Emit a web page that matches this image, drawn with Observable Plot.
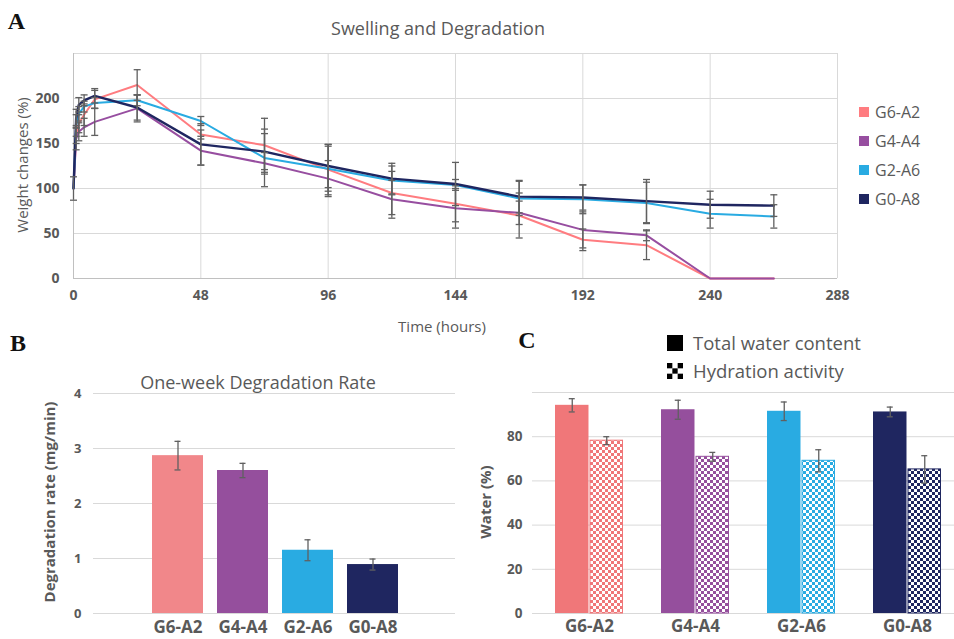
<!DOCTYPE html>
<html>
<head>
<meta charset="utf-8">
<script src="https://cdn.jsdelivr.net/npm/d3@7"></script>
<script src="https://cdn.jsdelivr.net/npm/@observablehq/plot@0.6"></script>
<style>
  body { margin: 0; background: #fff; font-family: "Open Sans", sans-serif; }
  #root { position: relative; width: 954px; height: 639px; overflow: hidden; background: #fff; }
  .abs { position: absolute; line-height: 1; white-space: nowrap; }
  .ctr { transform: translate(-50%, -50%); }
  .letter { font-family: "Liberation Serif", serif; font-weight: bold; font-size: 24px; color: #111; }
  .title { font-size: 18px; color: #595959; }
  .axlab { font-size: 15px; color: #595959; }
  .rot { transform: translate(-50%, -50%) rotate(-90deg); }
  .leg { font-size: 16px; color: #595959; }
  .legC { font-size: 18.5px; color: #595959; }
  .plot { position: absolute; }
</style>
</head>
<body>
<div id="root"></div>
<script>
// ---------- data ----------
const groups = ["G6-A2", "G4-A4", "G2-A6", "G0-A8"];

// Panel A: swelling & degradation (weight change %, mean and SD)
const hours = [0, 1, 2, 4, 8, 24, 48, 72, 96, 120, 144, 168, 192, 216, 240, 264];
const weightG6A2 = [100, 160, 172, 182, 199, 215, 160, 148, 121, 95, 83, 70, 43, 37, 0, 0];
const sdG6A2     = [0, 10, 10, 12, 10, 17, 5, 30, 28, 24, 20, 25, 12, 16, 0, 0];
const weightG4A4 = [100, 155, 163, 168, 174, 189, 142, 128, 111, 88, 78, 73, 54, 48, 0, 0];
const sdG4A4     = [0, 12, 10, 10, 15, 15, 16, 12, 20, 21, 22, 13, 20, 6, 0, 0];
const weightG2A6 = [100, 170, 183, 191, 195, 198, 175, 134, 122, 109, 104, 89, 88, 84, 72, 69];
const sdG2A6     = [0, 12, 8, 6, 6, 6, 5, 32, 25, 16, 6, 19, 16, 23, 16, 13];
const weightG0A8 = [100, 178, 193, 198, 203, 190, 149, 141, 125, 111, 105, 91, 90, 86, 82, 81];
const sdG0A8     = [13, 10, 8, 6, 8, 14, 23, 20, 24, 17, 24, 18, 14, 24, 15, 12];
const timeTicks = [0, 48, 96, 144, 192, 240, 288];
const weightTicks = [0, 50, 100, 150, 200];

// Panel B: one-week degradation rate (mg/min)
const rate = [2.87, 2.60, 1.15, 0.89];
const rateErr = [0.26, 0.13, 0.19, 0.10];
const rateTicks = [0, 1, 2, 3, 4];

// Panel C: water (%)
const totalWater = [94.2, 92.2, 91.5, 91.2];
const totalWaterErr = [3.0, 4.3, 4.2, 2.2];
const hydration = [78.2, 70.9, 69.1, 65.2];
const hydrationErr = [1.8, 2.0, 5.0, 6.2];
const waterTicks = [0, 20, 40, 60, 80];

// ---------- styles ----------
const lineColors = ["#ff7c80", "#974ea0", "#29abe2", "#1f2660"];
const barColorsB = ["#f1878a", "#954f9d", "#29abe2", "#1f2660"];
const barColorsC = ["#f07779", "#954f9d", "#29abe2", "#1f2660"];
const errColor = "#606060";
const gridColor = "#d9d9d9";
const baseStyle = { fontFamily: "Open Sans, sans-serif", color: "#595959", background: "transparent", overflow: "visible" };
const plain = d => String(d);

const root = document.getElementById("root");

// checker patterns
const NS = "http://www.w3.org/2000/svg";
const defsSvg = document.createElementNS(NS, "svg");
defsSvg.setAttribute("width", "0"); defsSvg.setAttribute("height", "0");
defsSvg.style.position = "absolute";
let defsHtml = "<defs>";
barColorsC.forEach((c, i) => {
  defsHtml += `<pattern id="chk${i}" width="6" height="6" patternUnits="userSpaceOnUse">
    <rect width="6" height="6" fill="#fff"/><rect width="3" height="3" fill="${c}"/><rect x="3" y="3" width="3" height="3" fill="${c}"/></pattern>`;
});
defsHtml += "</defs>";
defsSvg.innerHTML = defsHtml;
root.appendChild(defsSvg);

function addText(txt, cls, x, y, centered = true) {
  const d = document.createElement("div");
  d.className = "abs " + cls + (centered && !cls.includes("rot") ? " ctr" : "");
  d.style.left = x + "px"; d.style.top = y + "px";
  d.textContent = txt;
  root.appendChild(d);
  return d;
}
function place(svg, left, top) {
  svg.classList.add("plot");
  svg.style.left = left + "px"; svg.style.top = top + "px";
  root.appendChild(svg);
}

const capSymbol = { draw(ctx) { ctx.moveTo(-3.5, 0); ctx.lineTo(3.5, 0); } };

// ---------- Panel A ----------
const weights = [weightG6A2, weightG4A4, weightG2A6, weightG0A8];
const sds = [sdG6A2, sdG4A4, sdG2A6, sdG0A8];
const longA = [];
groups.forEach((g, i) => hours.forEach((t, j) => longA.push({ group: g, t, v: weights[i][j], e: sds[i][j] })));
const errA = longA.filter(d => d.e > 0);
const capsA = errA.flatMap(d => [{ t: d.t, y: d.v + d.e }, { t: d.t, y: d.v - d.e }]);

const plotA = Plot.plot({
  width: 850, height: 330,
  marginLeft: 73, marginRight: 13, marginTop: 53, marginBottom: 52,
  x: { domain: [0, 288] },
  y: { domain: [0, 250] },
  color: { domain: groups, range: lineColors },
  style: baseStyle,
  marks: [
    Plot.gridX(timeTicks.slice(1), { stroke: gridColor, strokeOpacity: 1 }),
    Plot.gridY([50, 100, 150, 200, 250], { stroke: gridColor, strokeOpacity: 1 }),
    Plot.ruleX([0], { stroke: "#c0c0c0" }),
    Plot.ruleY([0], { stroke: "#c0c0c0" }),
    Plot.axisX(timeTicks, { tickSize: 0, tickPadding: 12, fontWeight: "bold", fontSize: 14, label: null, tickFormat: plain }),
    Plot.axisY(weightTicks, { tickSize: 0, tickPadding: 14, fontWeight: "bold", fontSize: 14, label: null, tickFormat: plain }),
    ...groups.map((g, i) => Plot.line(longA.filter(d => d.group === g), {
      x: "t", y: "v", stroke: lineColors[i], strokeWidth: i === 3 ? 2.4 : 2
    })),
    Plot.ruleX(errA, { x: "t", y1: d => d.v - d.e, y2: d => d.v + d.e, stroke: errColor, strokeWidth: 1.3 }),
    Plot.dot(capsA, { x: "t", y: "y", symbol: capSymbol, r: 3, stroke: errColor, strokeWidth: 1.3, fill: "none" })
  ]
});
place(plotA, 0, 0);

addText("A", "letter", 16.5, 21);
addText("Swelling and Degradation", "title", 438, 28);
addText("Weight changes (%)", "axlab rot", 22, 165);
addText("Time (hours)", "axlab", 442, 326);

groups.forEach((g, i) => {
  const y = 112 + i * 29;
  const sq = document.createElement("div");
  sq.className = "abs";
  Object.assign(sq.style, { left: "859px", top: (y - 5) + "px", width: "10px", height: "10px", background: lineColors[i] });
  root.appendChild(sq);
  const t = addText(g, "leg", 875, y, false);
  t.style.transform = "translateY(-50%)";
});

// ---------- Panel B ----------
const dataB = groups.map((g, i) => ({ g, v: rate[i], e: rateErr[i] }));
const plotB = Plot.plot({
  width: 470, height: 309,
  marginLeft: 93, marginRight: 15, marginTop: 63, marginBottom: 26,
  x: { domain: groups, range: [150, 400], paddingInner: 0.212, paddingOuter: 0 },
  y: { domain: [0, 4] },
  color: { domain: groups, range: barColorsB },
  style: baseStyle,
  marks: [
    Plot.gridY(rateTicks, { stroke: gridColor, strokeOpacity: 1 }),
    Plot.axisX({ tickSize: 0, tickPadding: 7, fontWeight: "bold", fontSize: 17, label: null }),
    Plot.axisY(rateTicks, { tickSize: 0, tickPadding: 12, fontWeight: "bold", fontSize: 13, label: null, tickFormat: plain }),
    Plot.barY(dataB, { x: "g", y: "v", fill: "g" }),
    Plot.ruleX(dataB, { x: "g", y1: d => d.v - d.e, y2: d => d.v + d.e, stroke: errColor, strokeWidth: 1.3 }),
    Plot.tickY(dataB, { x: "g", y: d => d.v + d.e, stroke: errColor, strokeWidth: 1.3, insetLeft: 22.5, insetRight: 22.5 }),
    Plot.tickY(dataB, { x: "g", y: d => d.v - d.e, stroke: errColor, strokeWidth: 1.3, insetLeft: 22.5, insetRight: 22.5 })
  ]
});
place(plotB, 0, 330);

addText("B", "letter", 18, 342.5);
addText("One-week Degradation Rate", "title", 258, 382);
const ylB = addText("Degradation rate (mg/min)", "axlab rot", 49, 502);
ylB.style.fontWeight = "bold";

// ---------- Panel C ----------
const dataC = groups.map((g, i) => ({ g, total: totalWater[i], te: totalWaterErr[i], hyd: hydration[i], he: hydrationErr[i] }));
const rangeC = [83.5, 473.5], padC = 0.355;
const bandC = (rangeC[1] - rangeC[0]) / (groups.length - padC) * (1 - padC);
const half = bandC / 2, off = bandC / 4, capIn = (bandC - 7) / 2;
const errMarks = (yv, ev, dx) => [
  Plot.ruleX(dataC, { x: "g", y1: d => d[yv] - d[ev], y2: d => d[yv] + d[ev], dx, stroke: errColor, strokeWidth: 1.3 }),
  Plot.tickY(dataC, { x: "g", y: d => d[yv] + d[ev], dx, stroke: errColor, strokeWidth: 1.3, insetLeft: capIn, insetRight: capIn }),
  Plot.tickY(dataC, { x: "g", y: d => d[yv] - d[ev], dx, stroke: errColor, strokeWidth: 1.3, insetLeft: capIn, insetRight: capIn })
];
const plotC = Plot.plot({
  width: 484, height: 309,
  marginLeft: 62, marginRight: 0, marginTop: 62, marginBottom: 26,
  x: { domain: groups, range: rangeC, paddingInner: padC, paddingOuter: 0 },
  y: { domain: [0, 100] },
  color: { domain: groups, range: barColorsC },
  style: baseStyle,
  marks: [
    Plot.gridY([...waterTicks, 100], { stroke: gridColor, strokeOpacity: 1 }),
    Plot.axisX({ tickSize: 0, tickPadding: 6, fontWeight: "bold", fontSize: 17, label: null }),
    Plot.axisY(waterTicks, { tickSize: 0, tickPadding: 10, fontWeight: "bold", fontSize: 13.5, label: null, tickFormat: plain }),
    Plot.barY(dataC, { x: "g", y: "total", fill: "g", insetRight: half }),
    ...groups.map((g, i) => Plot.barY(dataC.filter(d => d.g === g), {
      x: "g", y: "hyd", fill: `url(#chk${i})`, stroke: barColorsC[i], strokeWidth: 1, insetLeft: half + 0.5, insetRight: 0.5
    })),
    ...errMarks("total", "te", -off),
    ...errMarks("hyd", "he", off)
  ]
});
place(plotC, 470, 330);

addText("C", "letter", 527, 340);
const ylC = addText("Water (%)", "axlab rot", 485, 502);
ylC.style.fontWeight = "bold";

// Legend C
const sqC = document.createElement("div");
sqC.className = "abs";
Object.assign(sqC.style, { left: "667px", top: "335px", width: "16px", height: "16px", background: "#000" });
root.appendChild(sqC);
const chkIcon = document.createElementNS(NS, "svg");
chkIcon.setAttribute("width", "16"); chkIcon.setAttribute("height", "16");
Object.assign(chkIcon.style, { position: "absolute", left: "667px", top: "363px" });
const cell = 16 / 3;
[[0,0],[2,0],[1,1],[0,2],[2,2]].forEach(([cx, cy]) => {
  const r = document.createElementNS(NS, "rect");
  r.setAttribute("x", cx * cell); r.setAttribute("y", cy * cell);
  r.setAttribute("width", cell); r.setAttribute("height", cell);
  r.setAttribute("fill", "#000");
  chkIcon.appendChild(r);
});
root.appendChild(chkIcon);
const lt1 = addText("Total water content", "legC", 693, 343, false); lt1.style.transform = "translateY(-50%)";
const lt2 = addText("Hydration activity", "legC", 693, 371, false); lt2.style.transform = "translateY(-50%)";
</script>
</body>
</html>
